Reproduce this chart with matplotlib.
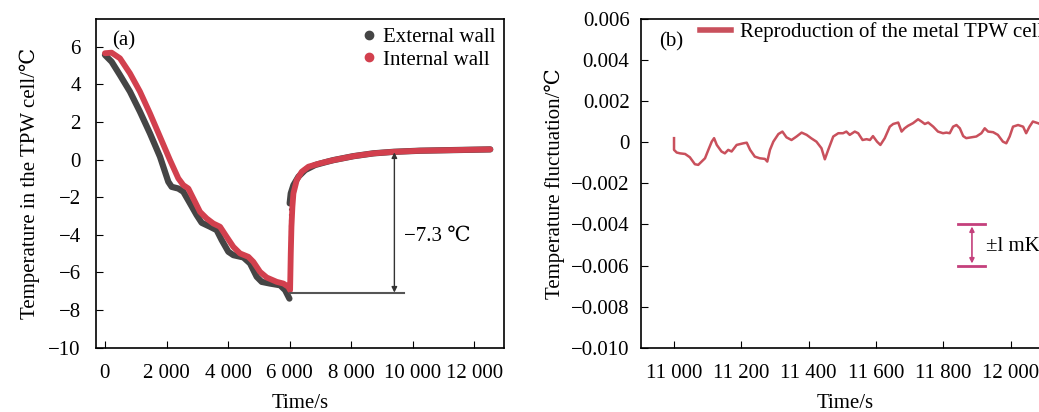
import matplotlib
matplotlib.use("Agg")
import matplotlib.pyplot as plt
from matplotlib.lines import Line2D

plt.rcParams['font.family'] = ['Liberation Serif', 'DejaVu Serif']
plt.rcParams['font.size'] = 15
plt.rcParams['axes.unicode_minus'] = True

# (a) cooling curves of the TPW cell
t_ext = [0, 217, 488, 813, 1138, 1463, 1788, 2058, 2167, 2383, 2546, 2763, 2979,
         3142, 3412, 3629, 3792, 4008, 4171, 4496, 4713, 4929, 5092, 5363, 5688,
         5851, 5991]
T_ext = [5.56, 5.2, 4.49, 3.61, 2.54, 1.39, 0.15, -1.18, -1.45, -1.54, -1.71, -2.33,
         -2.95, -3.36, -3.57, -3.75, -4.28, -4.90, -5.08, -5.20, -5.52, -6.23, -6.50,
         -6.59, -6.68, -6.94, -7.39]
t_ext_rec = [6000, 6035, 6121, 6284, 6501, 6826, 7205, 7421, 8072, 8722, 9372,
             10238, 11213, 12514]
T_ext_rec = [-2.33, -1.80, -1.36, -0.91, -0.56, -0.29, -0.12, -0.03, 0.18, 0.33,
             0.41, 0.47, 0.50, 0.54]

t_int = [0, 217, 488, 813, 1138, 1463, 1788, 2113, 2383, 2546, 2709, 2871, 3088,
         3304, 3521, 3738, 3954, 4171, 4388, 4659, 4821, 5038, 5255, 5580, 5796,
         5959, 6013, 6035, 6057, 6088, 6121, 6229, 6392, 6609, 6988, 7421, 8072,
         8722, 9372, 10238, 11213, 12514]
T_int = [5.65, 5.68, 5.38, 4.58, 3.61, 2.45, 1.21, -0.03, -1.0, -1.36, -1.54, -2.07,
         -2.78, -3.13, -3.40, -3.57, -4.11, -4.64, -4.99, -5.17, -5.44, -5.97, -6.27,
         -6.50, -6.59, -6.77, -6.94, -5.0, -3.57, -2.51, -1.80, -1.09, -0.65, -0.38,
         -0.20, -0.03, 0.18, 0.33, 0.41, 0.47, 0.50, 0.54]

xticks_a = [0, 2000, 4000, 6000, 8000, 10000, 12000]
xlabels_a = ["0", "2 000", "4 000", "6 000", "8 000", "10 000", "12 000"]
yticks_a = [-10, -8, -6, -4, -2, 0, 2, 4, 6]

# (b) temperature fluctuation during reproduction
t_b = [11000, 11000, 11008, 11018, 11033, 11047, 11062, 11072, 11082, 11092, 11102,
       11112, 11119, 11127, 11141, 11151, 11161, 11171, 11186, 11206, 11216, 11226,
       11240, 11255, 11270, 11277, 11285, 11295, 11310, 11322, 11334, 11349, 11364,
       11379, 11394, 11408, 11423, 11438, 11448, 11458, 11473, 11488, 11502, 11512,
       11522, 11537, 11547, 11560, 11572, 11582, 11591, 11603, 11613, 11626, 11641,
       11651, 11666, 11676, 11685, 11695, 11710, 11725, 11735, 11745, 11755, 11770,
       11784, 11799, 11809, 11819, 11829, 11839, 11849, 11859, 11868, 11883, 11898,
       11913, 11923, 11933, 11948, 11962, 11977, 11987, 11997, 12007, 12022, 12037,
       12046, 12056, 12066, 12081, 12100]
dT_b = [0.0002, -0.00037, -0.0005, -0.00054, -0.00057, -0.00073, -0.00107, -0.0011,
        -0.00094, -0.00078, -0.00037, 0.00003, 0.0002, -0.00013, -0.00045, -0.00054,
        -0.00037, -0.00045, -0.00013, -0.00005, -0.00002, -0.00037, -0.0007, -0.00078,
        -0.00081, -0.00094, -0.00037, 0.00003, 0.0004, 0.00052, 0.00024, 0.00011,
        0.00028, 0.00047, 0.00036, 0.00019, 0.00003, -0.00029, -0.00083, -0.00037,
        0.00028, 0.00044, 0.00044, 0.00052, 0.00036, 0.00052, 0.00044, 0.00011,
        0.00015, 0.00011, 0.0003, 0.00003, -0.00013, 0.0002, 0.00076, 0.00089,
        0.00096, 0.00052, 0.00068, 0.0008, 0.00093, 0.00112, 0.00101, 0.00089,
        0.00096, 0.00076, 0.00052, 0.00044, 0.00047, 0.00044, 0.00076, 0.00084,
        0.00068, 0.0003, 0.0002, 0.00024, 0.00028, 0.00044, 0.00068, 0.00052,
        0.00049, 0.00036, 0.00003, -0.00005, 0.00028, 0.00076, 0.00084, 0.00076,
        0.00044, 0.00076, 0.00101, 0.00093, 0.0008]

xticks_b = [11000, 11200, 11400, 11600, 11800, 12000]
xlabels_b = ["11 000", "11 200", "11 400", "11 600", "11 800", "12 000"]
yticks_b = [-0.010, -0.008, -0.006, -0.004, -0.002, 0, 0.002, 0.004, 0.006]
ylabels_b = ["\u22120.010", "\u22120.008", "\u22120.006", "\u22120.004", "\u22120.002",
             "0", "0.002", "0.004", "0.006"]

c_dark = "#454545"
c_red = "#d2404e"
c_line = "#c9505c"
c_bar = "#c4407c"

fig = plt.figure(figsize=(10.39, 4.12), dpi=100)
W, H = 1039, 412
ax1 = fig.add_axes([96 / W, 64.3 / H, 408 / W, 328.7 / H])
ax2 = fig.add_axes([640.7 / W, 64.3 / H, 408 / W, 328.7 / H])

# ---- panel (a)
ax1.plot(t_ext, T_ext, color=c_dark, lw=4.5, solid_capstyle='round')
ax1.plot(t_ext_rec, T_ext_rec, color=c_dark, lw=4.5, solid_capstyle='round')
ax1.plot([6000, 6000], [T_ext_rec[0], -6.9], color=c_dark, lw=1.5, ls=':')
ax1.plot(t_int, T_int, color=c_red, lw=4.2, solid_capstyle='round')

ax1.plot([6000, 9720], [-7.07, -7.07], color="#555555", lw=1.5)
ax1.annotate("", xy=(9400, 0.38), xytext=(9400, -7.07),
             arrowprops=dict(arrowstyle="<|-|>", color="#333333", lw=1.0,
                             mutation_scale=8, shrinkA=0, shrinkB=0))
ax1.text(9700, -4.1, "\u22127.3 \u2103", va="center", ha="left")
ax1.text(0.04, 0.935, "(a)", transform=ax1.transAxes, va="center", ha="left")

handles = [Line2D([], [], color=c_dark, marker='o', ls='', ms=6),
           Line2D([], [], color=c_red, marker='o', ls='', ms=6)]
ax1.legend(handles, ["External wall", "Internal wall"], loc="upper right",
           frameon=False, handletextpad=0.1, borderpad=0.2, labelspacing=0.15,
           borderaxespad=0.2, handlelength=1.2)

ax1.set_xlim(-290, 12960)
ax1.set_ylim(-10, 7.47)
ax1.set_xticks(xticks_a)
ax1.set_xticklabels(xlabels_a)
ax1.set_yticks(yticks_a)
ax1.set_xlabel("Time/s", labelpad=8)
ax1.set_ylabel("Temperature in the TPW cell/\u2103", labelpad=6)
ax1.tick_params(axis='x', direction='in', length=5, pad=12)
ax1.tick_params(axis='y', direction='in', length=5, pad=11)

# ---- panel (b)
ax2.plot(t_b, dT_b, color=c_line, lw=1.8)
ax2.plot([11843, 11924], [-0.004, -0.004], color=c_bar, lw=2)
ax2.plot([11843, 11924], [-0.006, -0.006], color=c_bar, lw=2)
ax2.annotate("", xy=(11885, -0.0041), xytext=(11885, -0.0059),
             arrowprops=dict(arrowstyle="<|-|>", color=c_bar, lw=1.2,
                             mutation_scale=7, shrinkA=0, shrinkB=0))
ax2.text(11928, -0.00505, "\u00b1l mK", va="center", ha="left")
ax2.text(0.045, 0.93, "(b)", transform=ax2.transAxes, va="center", ha="left")

ax2.legend([Line2D([], [], color=c_line, lw=4)], ["Reproduction of the metal TPW cell"],
           loc="upper left", bbox_to_anchor=(0.11, 1.035), frameon=False,
           handlelength=1.5, handletextpad=0.4, borderpad=0.2)

ax2.set_xlim(10901, 12113)
ax2.set_ylim(-0.010, 0.006)
ax2.set_xticks(xticks_b)
ax2.set_xticklabels(xlabels_b)
ax2.set_yticks(yticks_b)
ax2.set_yticklabels(ylabels_b)
ax2.set_xlabel("Time/s", labelpad=8)
ax2.set_ylabel("Temperature fluctuation/\u2103", labelpad=4)
ax2.tick_params(axis='x', direction='in', length=5, pad=12)
ax2.tick_params(axis='y', direction='in', length=5, pad=8)

for ax in (ax1, ax2):
    for s in ax.spines.values():
        s.set_linewidth(1.2)

fig.savefig("out.png", dpi=100)
